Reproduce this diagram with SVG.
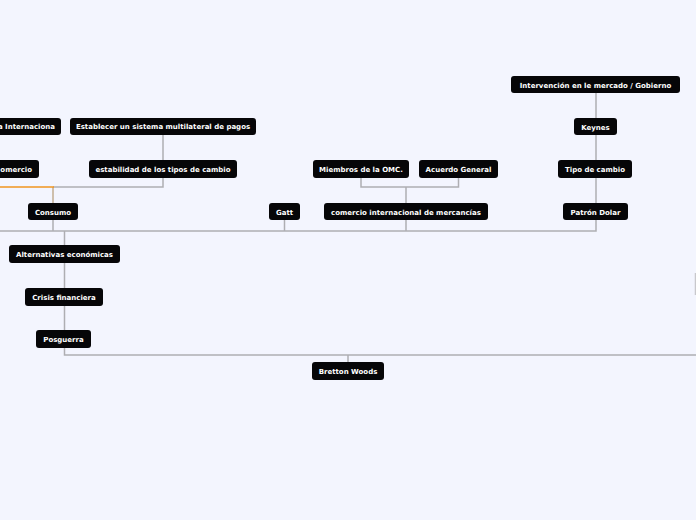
<svg xmlns="http://www.w3.org/2000/svg" width="696" height="520" viewBox="0 0 696 520">
<style>
.n rect{fill:#060608;rx:3px;ry:3px}
.n text{fill:#fff;font-family:"DejaVu Sans",Verdana,sans-serif;font-weight:bold;font-size:7px;text-anchor:middle}
.c{stroke:#aeaeb2;stroke-width:1.5;fill:none}
</style>
<rect width="696" height="520" fill="#f3f5fe"/>
<g id="connectors">
<path class="c" d="M163 135V160"/>
<path class="c" d="M163 178V187H53"/>
<path d="M53 187V203" stroke="#c2ad90" stroke-width="1.5" fill="none"/>
<path d="M0 187H54" stroke="#f0941e" stroke-width="1.5" fill="none"/>
<path class="c" d="M53 220V231"/>
<path class="c" d="M0 231H596V220"/>
<path class="c" d="M284.5 220V231"/>
<path class="c" d="M406 220V231"/>
<path class="c" d="M361 178V187H458.5V178"/>
<path class="c" d="M406 187V203"/>
<path class="c" d="M596 93V118M596 135V160M596 178V203"/>
<path class="c" d="M64.5 231V245M64.5 263V288M64.5 306V330M64.5 348V355H696"/>
<path class="c" d="M348 355V362"/>
<path d="M695.5 273V295" stroke="#c8c8cc" stroke-width="1.5"/>
</g>
<g id="n1" class="n"><rect x="-60" y="118" width="121" height="17"/><text x="55" y="129" text-anchor="end" style="text-anchor:end">a Internaciona</text></g>
<g id="n2" class="n"><rect x="70" y="118" width="186" height="17"/><text x="163" y="129">Establecer un sistema multilateral de pagos</text></g>
<g id="n3" class="n"><rect x="-40" y="160" width="79" height="18"/><text x="32" y="171.5" style="text-anchor:end">omercio</text></g>
<g id="n4" class="n"><rect x="89" y="160" width="148" height="18"/><text x="163" y="171.5">estabilidad de los tipos de cambio</text></g>
<g id="n5" class="n"><rect x="28" y="203" width="50" height="17"/><text x="53" y="214.5">Consumo</text></g>
<g id="n6" class="n"><rect x="269" y="203" width="31" height="17"/><text x="284.5" y="214.5">Gatt</text></g>
<g id="n7" class="n"><rect x="313" y="160" width="96" height="18"/><text x="361" y="171.5">Miembros de la OMC.</text></g>
<g id="n8" class="n"><rect x="419" y="160" width="79" height="18"/><text x="458.5" y="171.5">Acuerdo General</text></g>
<g id="n9" class="n"><rect x="324" y="203" width="164" height="17"/><text x="406" y="214.5">comercio internacional de mercancías</text></g>
<g id="n10" class="n"><rect x="511" y="76" width="169" height="17"/><text x="595.5" y="87.5">Intervención en le mercado / Gobierno</text></g>
<g id="n11" class="n"><rect x="574" y="118" width="43" height="17"/><text x="595.5" y="129.5">Keynes</text></g>
<g id="n12" class="n"><rect x="558" y="160" width="74" height="18"/><text x="595" y="171.5">Tipo de cambio</text></g>
<g id="n13" class="n"><rect x="563" y="203" width="65" height="17"/><text x="595.5" y="214.5">Patrón Dolar</text></g>
<g id="n14" class="n"><rect x="9" y="245" width="111" height="18"/><text x="64.5" y="256.5">Alternativas económicas</text></g>
<g id="n15" class="n"><rect x="25" y="288" width="78" height="18"/><text x="64" y="299.5">Crisis financiera</text></g>
<g id="n16" class="n"><rect x="36" y="330" width="55" height="18"/><text x="63.5" y="341.5">Posguerra</text></g>
<g id="n17" class="n"><rect x="312" y="362" width="72" height="18"/><text x="348" y="373.5">Bretton Woods</text></g>
</svg>
